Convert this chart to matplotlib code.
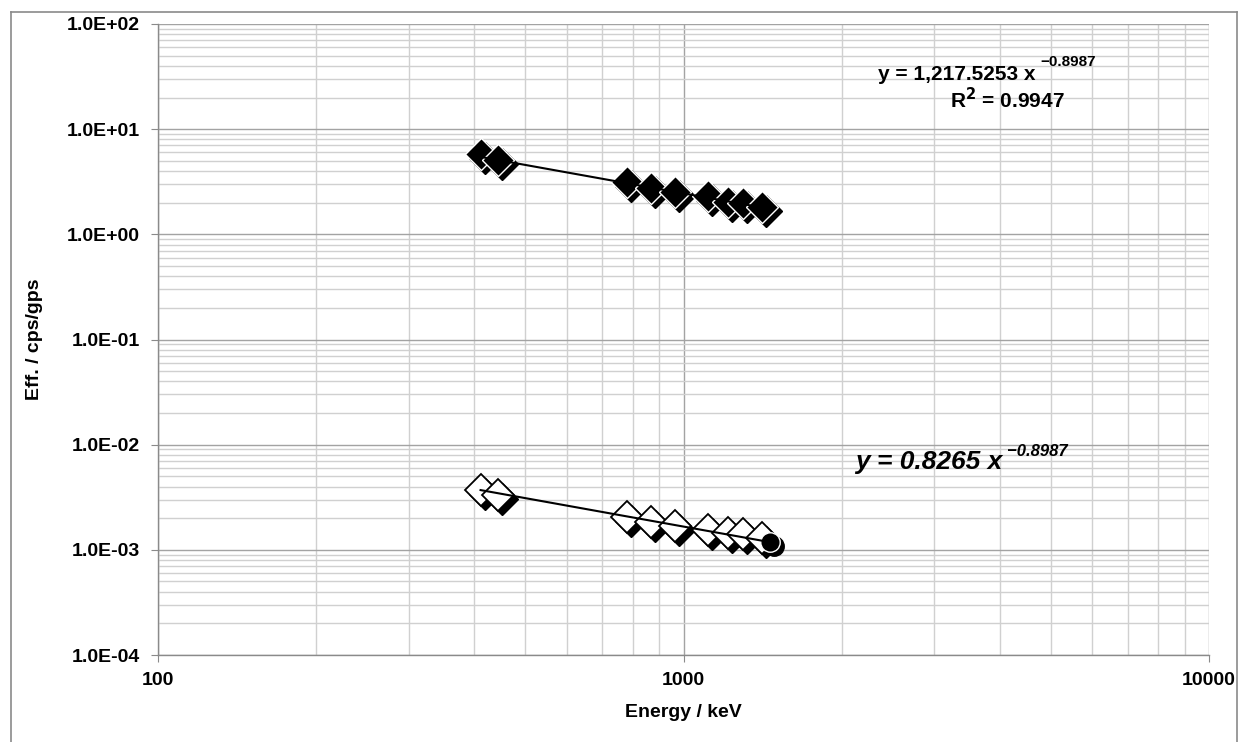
import numpy as np
import matplotlib.pyplot as plt
import matplotlib.transforms as mtransforms
from matplotlib.lines import Line2D
from matplotlib.ticker import FixedLocator, LogLocator, NullFormatter

plt.rcParams['font.family'] = ['Liberation Sans', 'DejaVu Sans']

# Energies (keV)
energy = [411, 444, 779, 867, 964, 1112, 1213, 1299, 1408]
# counting efficiency, cps/gps (filled diamonds)
eff_cps = [5.79, 5.07, 3.16, 2.73, 2.54, 2.31, 2.04, 1.97, 1.80]
# efficiency, open diamonds
eff_abs = [3.68e-3, 3.35e-3, 2.06e-3, 1.84e-3, 1.70e-3, 1.56e-3, 1.45e-3, 1.40e-3, 1.30e-3]
# single point (K-40 line)
k40_energy = [1461]
k40_eff = [1.18e-3]

# power-law trendline coefficients shown on the chart
a_cps, a_abs, b_pow = 1217.5253, 0.8265, -0.8987

fig = plt.figure(figsize=(12.4, 7.42), dpi=100)
ax = fig.add_axes([158/1240, 1-655/742, (1209-158)/1240, (655-24)/742])
ax.set_xscale('log')
ax.set_yscale('log')
ax.set_xlim(100, 10000)
ax.set_ylim(1e-4, 1e2)

# grid
ax.xaxis.set_minor_locator(LogLocator(base=10, subs=np.arange(2, 10)))
ax.yaxis.set_minor_locator(LogLocator(base=10, subs=np.arange(2, 10)))
ax.xaxis.set_minor_formatter(NullFormatter())
ax.yaxis.set_minor_formatter(NullFormatter())
ax.grid(which='major', color='#a3a3a3', lw=1.0)
ax.grid(which='minor', color='#d0d0d0', lw=1.0)
ax.set_axisbelow(True)

for s in ['top', 'right']:
    ax.spines[s].set_visible(False)
for s in ['left', 'bottom']:
    ax.spines[s].set_color('#8a8a8a')
    ax.spines[s].set_linewidth(1.0)

ax.xaxis.set_major_locator(FixedLocator([100, 1000, 10000]))
ax.set_xticklabels(['100', '1000', '10000'])
yt = [1e-4, 1e-3, 1e-2, 1e-1, 1e0, 1e1, 1e2]
ax.yaxis.set_major_locator(FixedLocator(yt))
ax.set_yticklabels(['%.1E' % v for v in yt])
ax.tick_params(which='major', length=5, color='#8a8a8a', labelsize=14, pad=8)
ax.tick_params(axis='x', pad=7)
ax.tick_params(which='minor', length=0)
for lab in ax.get_xticklabels() + ax.get_yticklabels():
    lab.set_fontweight('bold')

ax.set_xlabel('Energy / keV', fontsize=14, fontweight='bold', labelpad=11)
ax.set_ylabel('Eff. / cps/gps', fontsize=14, fontweight='bold', labelpad=17)

# shadows
ms_d = 16
sh = mtransforms.offset_copy(ax.transData, fig=fig, x=4, y=-4, units='dots')
ax.plot(energy, eff_cps, 'D', ms=ms_d, color='black', mec='black', transform=sh, zorder=3)
ax.plot(energy, eff_abs, 'D', ms=ms_d, color='black', mec='black', transform=sh, zorder=3)
ax.plot(k40_energy, k40_eff, 'o', ms=14, color='black', mec='black', transform=sh, zorder=3)

for i in range(len(energy)):
    ax.plot(energy[i], eff_cps[i], 'D', ms=ms_d, color='black', mec='white', mew=1.0, zorder=4 + i*0.01)
    ax.plot(energy[i], eff_abs[i], 'D', ms=ms_d, color='white', mec='black', mew=1.3, zorder=4 + i*0.01)
ax.plot(k40_energy, k40_eff, 'o', ms=14, color='black', mec='white', mew=1.0, zorder=4.5)

# trendlines
xe = np.array([energy[0], energy[-1]])
ax.plot(xe, a_cps * xe**b_pow, color='black', lw=1.5, zorder=6)
xe2 = np.array([energy[0], k40_energy[0]])
ax.plot(xe2, a_abs * xe2**b_pow, color='black', lw=1.5, zorder=6)

# trendline labels
def ftext(px, py, s, **kw):
    fig.text(px/1240, 1-py/742, s, va='center', fontweight='bold', **kw)

ftext(878, 74, 'y = 1,217.5253 x', ha='left', fontsize=15)
ftext(1040, 62, '\u22120.8987', ha='left', fontsize=11)
ftext(1007, 100, r'R$^{\mathbf{2}}$ = 0.9947', ha='center', fontsize=15)

ftext(855, 462, 'y = 0.8265 x', ha='left', fontsize=19, fontstyle='italic')
ftext(1007, 451, '\u22120.8987', ha='left', fontsize=12, fontstyle='italic')

# chart area border
bc = '#8a8a8a'
fig.add_artist(Line2D([11/1240, 11/1240], [0, 1-12/742], transform=fig.transFigure, color=bc, lw=1.2))
fig.add_artist(Line2D([11/1240, 1237/1240], [1-12/742, 1-12/742], transform=fig.transFigure, color=bc, lw=1.2))
fig.add_artist(Line2D([1237/1240, 1237/1240], [0, 1-12/742], transform=fig.transFigure, color=bc, lw=1.2))

fig.savefig('out.png', dpi=100)
